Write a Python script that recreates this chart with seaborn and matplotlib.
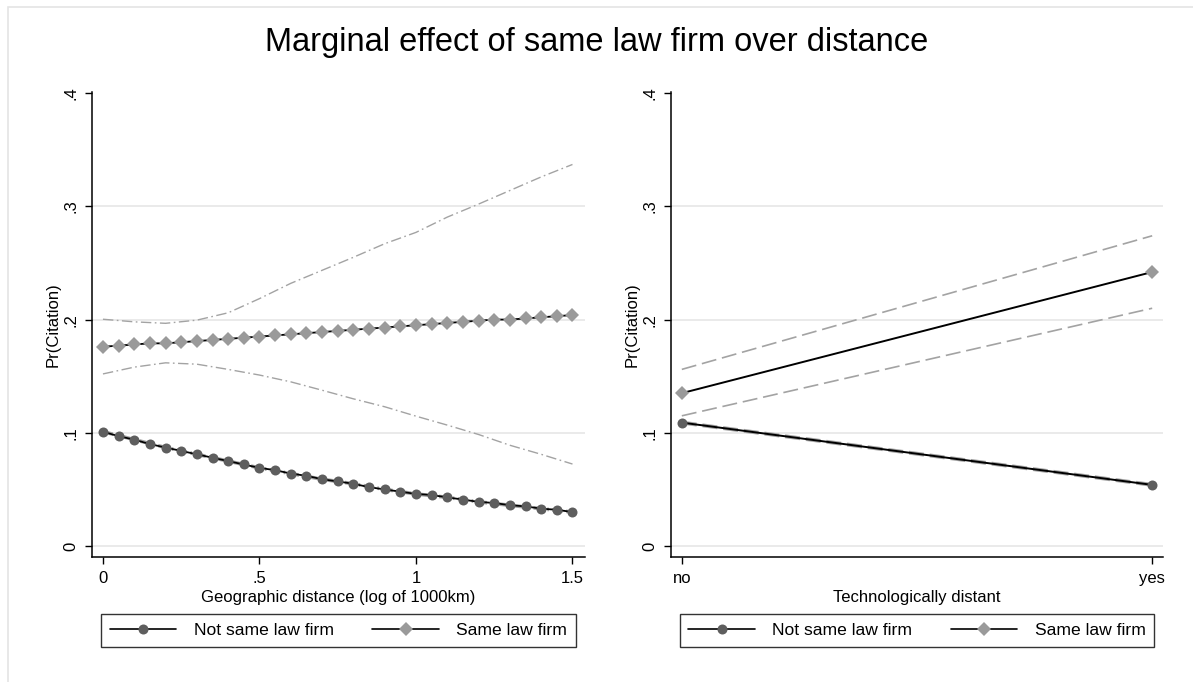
import matplotlib
matplotlib.use("Agg")
import matplotlib.pyplot as plt
from matplotlib.lines import Line2D
from matplotlib.patches import Rectangle
import seaborn as sns

# left panel: predicted Pr(Citation) over geographic distance
dist = [0.0, 0.05, 0.1, 0.15, 0.2, 0.25, 0.3, 0.35, 0.4, 0.45, 0.5, 0.55, 0.6, 0.65, 0.7,
        0.75, 0.8, 0.85, 0.9, 0.95, 1.0, 1.05, 1.1, 1.15, 1.2, 1.25, 1.3, 1.35, 1.4, 1.45, 1.5]
not_same = [0.101, 0.097, 0.094, 0.090, 0.087, 0.084, 0.081, 0.078, 0.075, 0.072, 0.069,
            0.067, 0.064, 0.062, 0.059, 0.057, 0.055, 0.052, 0.050, 0.048, 0.046, 0.045,
            0.043, 0.041, 0.039, 0.038, 0.036, 0.035, 0.033, 0.032, 0.030]
same = [0.176, 0.177, 0.178, 0.179, 0.179, 0.180, 0.181, 0.182, 0.183, 0.184, 0.185,
        0.186, 0.187, 0.188, 0.189, 0.190, 0.191, 0.192, 0.193, 0.194, 0.195, 0.196,
        0.197, 0.198, 0.199, 0.200, 0.200, 0.201, 0.202, 0.203, 0.204]

# confidence bands (read at 0.1 steps)
band_x = [0.0, 0.1, 0.2, 0.3, 0.4, 0.5, 0.6, 0.7, 0.8, 0.9, 1.0, 1.1, 1.2, 1.3, 1.4, 1.5]
same_hi = [0.2003, 0.198, 0.1967, 0.1995, 0.206, 0.2185, 0.232, 0.2435, 0.255, 0.267,
           0.277, 0.2905, 0.302, 0.314, 0.326, 0.337]
same_lo = [0.152, 0.158, 0.1618, 0.1606, 0.156, 0.151, 0.145, 0.1376, 0.130, 0.123,
           0.1147, 0.1068, 0.0985, 0.089, 0.081, 0.0724]
not_hi = [0.102, 0.095, 0.088, 0.082, 0.076, 0.070, 0.065, 0.060, 0.056, 0.051, 0.047,
          0.044, 0.040, 0.037, 0.034, 0.031]
not_lo = [0.100, 0.093, 0.086, 0.080, 0.074, 0.068, 0.063, 0.058, 0.054, 0.049, 0.045,
          0.042, 0.038, 0.035, 0.032, 0.029]

# right panel: technologically distant no / yes
tech_labels = ["no", "yes"]
tech_x = [0, 1]
r_not_same = [0.109, 0.054]
r_not_lo = [0.108, 0.053]
r_not_hi = [0.110, 0.055]
r_same = [0.135, 0.242]
r_same_lo = [0.115, 0.210]
r_same_hi = [0.156, 0.274]

y_ticks = [0, 0.1, 0.2, 0.3, 0.4]
y_ticklabels = ["0", ".1", ".2", ".3", ".4"]
x_ticks = [0, 0.5, 1, 1.5]
x_ticklabels = ["0", ".5", "1", "1.5"]

sns.set_style("white")
plt.rcParams["font.family"] = ["Liberation Sans", "DejaVu Sans"]
plt.rcParams["text.color"] = "black"
plt.rcParams["axes.labelcolor"] = "black"
plt.rcParams["xtick.color"] = "black"
plt.rcParams["ytick.color"] = "black"

FS = 12
BAND = "#a3a3a3"
DARK = "#5e5e5e"
LIGHT = "#9a9a9a"
MS_O = 7.2
MS_D = 6.8

fig = plt.figure(figsize=(11.93, 6.82), dpi=100)
# faint outer frame (only top/left edges visible)
fig.patches.append(Rectangle((8 / 1193, -0.1), 1.2, 1 - 7 / 682 + 0.1, transform=fig.transFigure,
                             fill=False, edgecolor="#e4e4e4", linewidth=1.2))

ax1 = fig.add_axes([92 / 1193, 1 - 557 / 682, 493 / 1193, 465 / 682])
ax2 = fig.add_axes([671 / 1193, 1 - 557 / 682, 492 / 1193, 465 / 682])

dashdot = (0, (7.5, 2.5, 1.2, 2.5))
longdash = (0, (9, 3.5))

# left panel
for hi, lo in [(same_hi, same_lo), (not_hi, not_lo)]:
    sns.lineplot(x=band_x, y=hi, ax=ax1, color=BAND, linewidth=1.0, linestyle=dashdot)
    sns.lineplot(x=band_x, y=lo, ax=ax1, color=BAND, linewidth=1.0, linestyle=dashdot)
sns.lineplot(x=dist, y=not_same, ax=ax1, color="black", linewidth=1.3, marker="o",
             markersize=MS_O, markerfacecolor=DARK, markeredgecolor=DARK, markeredgewidth=0)
sns.lineplot(x=dist, y=same, ax=ax1, color="black", linewidth=1.3, marker="D",
             markersize=MS_D, markerfacecolor=LIGHT, markeredgecolor=LIGHT, markeredgewidth=0)
ax1.set_xlim(-0.035, 1.54)
ax1.set_xticks(x_ticks)
ax1.set_xticklabels(x_ticklabels)
ax1.set_xlabel("Geographic distance (log of 1000km)", fontsize=FS, labelpad=3)

# right panel
for hi, lo in [(r_same_hi, r_same_lo), (r_not_hi, r_not_lo)]:
    sns.lineplot(x=tech_x, y=hi, ax=ax2, color=BAND, linewidth=1.2, linestyle=longdash)
    sns.lineplot(x=tech_x, y=lo, ax=ax2, color=BAND, linewidth=1.2, linestyle=longdash)
sns.lineplot(x=tech_x, y=r_not_same, ax=ax2, color="black", linewidth=1.4, marker="o",
             markersize=MS_O, markerfacecolor=DARK, markeredgecolor=DARK, markeredgewidth=0)
sns.lineplot(x=tech_x, y=r_same, ax=ax2, color="black", linewidth=1.4, marker="D",
             markersize=MS_D, markerfacecolor=LIGHT, markeredgecolor=LIGHT, markeredgewidth=0)
ax2.set_xlim(-0.023, 1.023)
ax2.set_xticks(tech_x)
ax2.set_xticklabels(tech_labels)
ax2.set_xlabel("Technologically distant", fontsize=FS, labelpad=3)

handles = [
    Line2D([], [], color="black", linewidth=1.2, marker="o", markersize=MS_O,
           markerfacecolor=DARK, markeredgewidth=0),
    Line2D([], [], color="black", linewidth=1.2, marker="D", markersize=MS_D,
           markerfacecolor=LIGHT, markeredgewidth=0),
]
names = ["Not same law firm", "Same law firm"]

for ax in (ax1, ax2):
    ax.set_ylim(-0.0097, 0.401)
    ax.set_yticks(y_ticks)
    ax.set_yticklabels(y_ticklabels)
    ax.set_ylabel("Pr(Citation)", fontsize=FS, labelpad=2)
    ax.grid(axis="y", color="#e8e8e8", linewidth=1.3)
    ax.grid(axis="x", visible=False)
    ax.yaxis.get_gridlines()[-1].set_visible(False)
    ax.set_axisbelow(True)
    for side in ("top", "right"):
        ax.spines[side].set_visible(False)
    for side in ("left", "bottom"):
        ax.spines[side].set_color("black")
        ax.spines[side].set_linewidth(1.1)
    ax.tick_params(axis="both", direction="out", length=5, width=1, color="black",
                   labelsize=FS, left=True, bottom=True, pad=5)
    for lab in ax.get_yticklabels():
        lab.set_rotation(90)
        lab.set_va("center")
    leg = ax.legend(handles, names, loc="upper center", bbox_to_anchor=(0.5, -0.1226),
                    ncol=2, numpoints=1, frameon=True, fancybox=False, edgecolor="black",
                    fontsize=12.6, handlelength=3.8, handletextpad=1.0, columnspacing=2.2,
                    borderaxespad=0, borderpad=0.5)
    leg.get_frame().set_linewidth(1.0)

fig.suptitle("Marginal effect of same law firm over distance", fontsize=23.5, y=1 - 42 / 682,
             va="center")

fig.savefig("out.png", dpi=100, facecolor="white")
